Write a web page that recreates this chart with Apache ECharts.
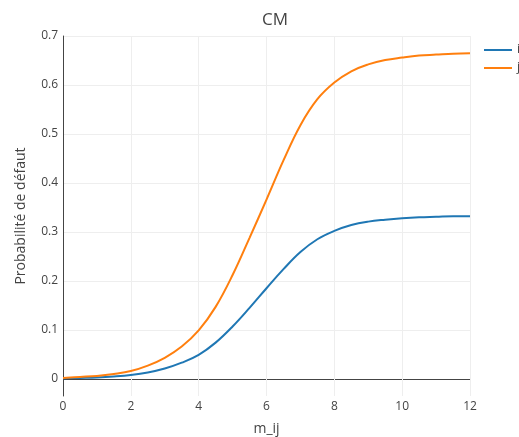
<!DOCTYPE html>
<html>
<head>
<meta charset="utf-8">
<script src="https://cdn.jsdelivr.net/npm/echarts@6/dist/echarts.min.js"></script>
<style>html,body{margin:0;padding:0;background:#fff;}#c{width:519px;height:437px;}</style>
</head>
<body>
<div id="c"></div>
<script>
const xValues = [0,0.5,1,1.5,2,2.5,3,3.5,4,4.5,5,5.5,6,6.5,7,7.5,8,8.5,9,9.5,10,10.5,11,11.5,12];
const seriesNames = ['i', 'j'];
const blueValues = [0.001,0.002,0.003,0.005,0.008,0.013,0.021,0.033,0.049,0.074,0.107,0.145,0.185,0.224,0.259,0.285,0.302,0.314,0.321,0.325,0.328,0.330,0.331,0.332,0.332];
const orangeValues = [0.002,0.004,0.006,0.010,0.016,0.027,0.043,0.066,0.099,0.147,0.212,0.288,0.366,0.446,0.518,0.571,0.605,0.628,0.642,0.651,0.656,0.660,0.662,0.664,0.665];
const yTicks = [0,0.1,0.2,0.3,0.4,0.5,0.6,0.7];
const xTicks = [0,2,4,6,8,10,12];

const FONT = '"Open Sans", "DejaVu Sans", sans-serif';
const chart = echarts.init(document.getElementById('c'), null, {renderer: 'canvas'});
const pair = (vals) => xValues.map((x, i) => [x, vals[i]]);
chart.setOption({
  animation: false,
  backgroundColor: '#fff',
  title: {
    text: 'CM', left: 270, top: 7, textAlign: 'center',
    textStyle: {fontFamily: FONT, fontSize: 17, fontWeight: 'normal', color: '#444'}
  },
  legend: {
    orient: 'vertical', left: 479, top: 39, itemWidth: 28, itemHeight: 2, itemGap: 6,
    icon: 'rect',
    textStyle: {fontFamily: FONT, fontSize: 12, color: '#444'},
    data: seriesNames
  },
  grid: {left: 63, right: 49, top: 36, bottom: 41, containLabel: false, outerBoundsMode: 'none'},
  xAxis: {
    type: 'value', min: 0, max: 12, interval: 2,
    name: 'm_ij', nameLocation: 'middle', nameGap: 26,
    nameTextStyle: {fontFamily: FONT, fontSize: 14, color: '#444'},
    axisLine: {show: false, onZero: false},
    axisTick: {show: false},
    axisLabel: {fontFamily: FONT, fontSize: 12, color: '#444', margin: 5, customValues: xTicks},
    splitLine: {show: true, lineStyle: {color: '#eee', width: 1}}
  },
  yAxis: {
    type: 'value', min: -0.035, max: 0.7,
    name: 'Probabilité de défaut', nameLocation: 'middle', nameGap: 35,
    nameTextStyle: {fontFamily: FONT, fontSize: 14, color: '#444'},
    axisLine: {show: true, onZero: false, lineStyle: {color: '#444', width: 1}},
    axisTick: {show: false, customValues: yTicks},
    axisLabel: {fontFamily: FONT, fontSize: 12, color: '#444', margin: 5, customValues: yTicks,
      formatter: v => String(Math.round(v * 10) / 10)},
    splitLine: {show: true, lineStyle: {color: ['#444','#eee','#eee','#eee','#eee','#eee','#eee','#eee'], width: 1}}
  },
  series: [
    {name: seriesNames[0], type: 'line', data: pair(blueValues), symbol: 'none', smooth: 0.4,
      lineStyle: {color: '#1f77b4', width: 2}, itemStyle: {color: '#1f77b4'}, z: 3},
    {name: seriesNames[1], type: 'line', data: pair(orangeValues), symbol: 'none', smooth: 0.4,
      lineStyle: {color: '#ff7f0e', width: 2}, itemStyle: {color: '#ff7f0e'}, z: 3}
  ]
});
</script>
</body>
</html>
